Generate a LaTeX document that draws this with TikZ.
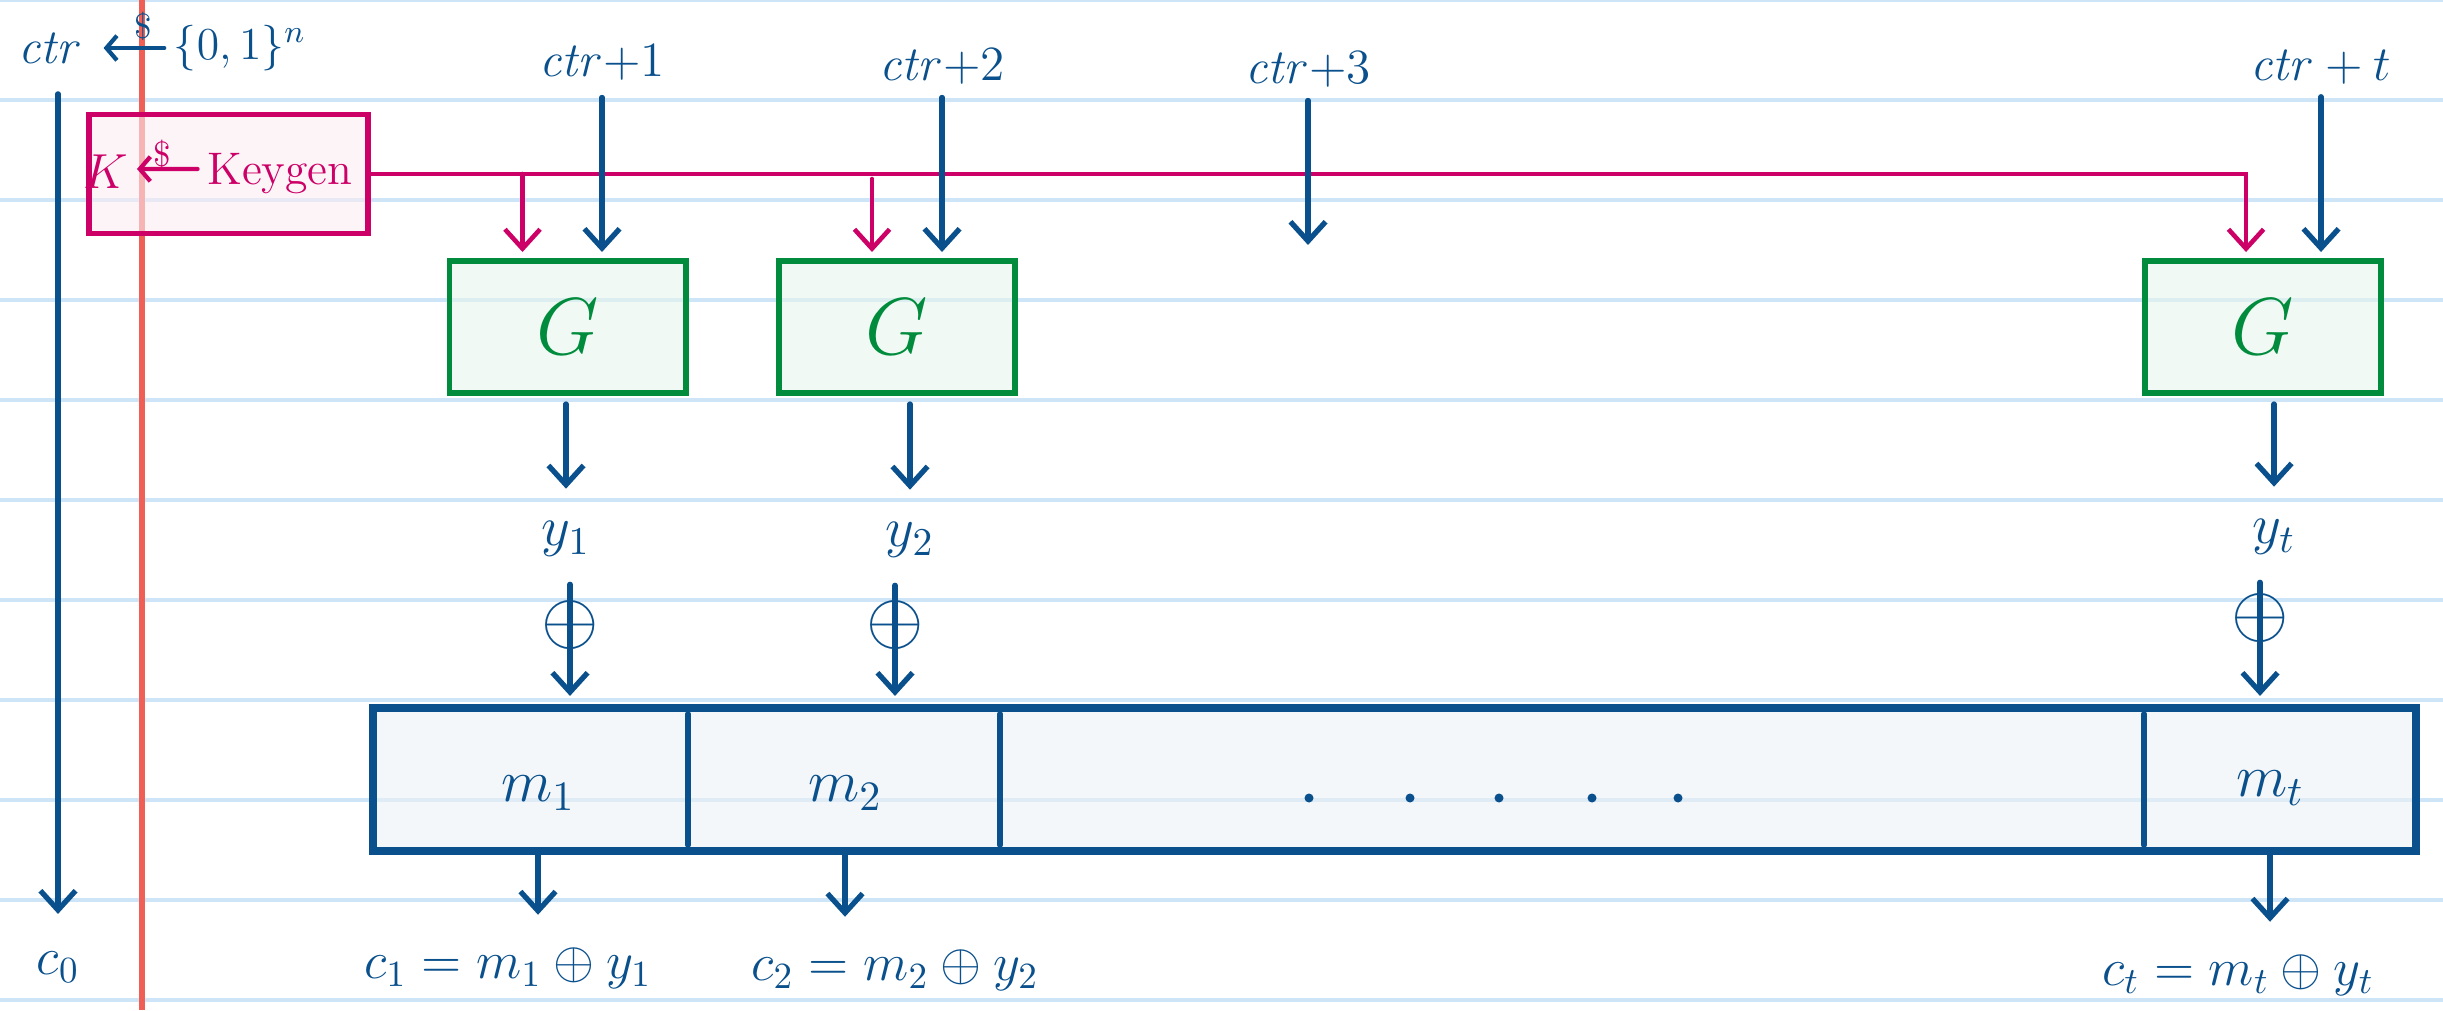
\RequirePackage{fix-cm}
\documentclass[tikz,border=0pt]{standalone}
\usepackage{amsmath,amssymb}
\usepackage{tikz}
\usetikzlibrary{arrows.meta,positioning}

\definecolor{ink}{RGB}{10,80,140}
\definecolor{keypink}{RGB}{204,0,102}
\definecolor{prgreen}{RGB}{0,140,60}
\definecolor{ruleblue}{RGB}{205,229,246}
\definecolor{marginred}{RGB}{240,95,85}

\begin{document}
\begin{tikzpicture}[x=1cm, y=1cm, >={Straight Barb[length=5.5pt,width=10pt]},
    lbl/.style={text=ink, inner sep=2pt, font=\fontsize{#1}{#1}\selectfont},
    flow/.style={->, draw=ink, line width=1.5pt, line cap=round},
    keyflow/.style={->, draw=keypink, line width=1.3pt, line cap=round},
    sampled/.style={arrows={Straight Barb[length=3pt,width=7pt]-}, line width=1.2pt, line cap=round},
    keybox/.style={draw=keypink, line width=1.7pt, fill=keypink!7, fill opacity=0.6,
        minimum width=2.79cm, minimum height=1.19cm},
    genbox/.style={draw=prgreen, line width=1.7pt, fill=prgreen!9, fill opacity=0.6, text opacity=1,
        text=prgreen, minimum width=2.36cm, minimum height=1.32cm, font=\fontsize{23}{23}\selectfont},
    msgbox/.style={draw=ink, line width=2.3pt, fill=ink!8, fill opacity=0.6,
        minimum width=20.43cm, minimum height=1.43cm}]

    % --- Ruled paper ---
    \useasboundingbox (0,0) rectangle (24.43,10.10);
    \foreach \k in {0,...,10}
        \draw[ruleblue, line width=1pt] (0,10.10-\k) -- (24.43,10.10-\k);
    \draw[marginred, line width=1.6pt] (1.42,0) -- (1.42,10.10);

    % --- Counter sampling ---
    \node[lbl=14] (ctr) at (0.50,9.62) {$\mathit{ctr}$};
    \node[lbl=13] (ctrset) at (2.40,9.62) {$\{0,1\}^n$};
    \node[lbl=10] (ctrcoin) at (1.43,9.84) {\$};
    \draw[sampled, ink, shorten <=0.14cm, shorten >=0.02cm] (ctr.east) -- (ctrset.west);
    \node[lbl=15] (c0) at (0.58,0.43) {$c_0$};
    \draw[flow, shorten <=0.23cm, shorten >=0.3cm] (c0.north |- ctr.south) -- (c0.north);

    % --- Key generation ---
    \node[keybox] (keygen) at (2.285,8.36) {};
    \node[lbl=14, text=keypink] (keyK) at (1.06,8.38) {$K$};
    \node[lbl=13, text=keypink] (keyalg) at (2.80,8.36) {Keygen};
    \node[lbl=10, text=keypink] (keycoin) at (1.62,8.56) {\$};
    \draw[sampled, keypink, shorten <=0.01cm, shorten >=0.02cm] ([yshift=0.03cm]keyK.east) -- ([yshift=0.05cm]keyalg.west);

    % --- PRG blocks ---
    \node[genbox] (G1) at (5.675,6.83) {$G$};
    \node[genbox] (G2) at (8.97,6.83) {$G$};
    \node[genbox] (Gt) at (22.63,6.83) {$G$};

    % Key wire into every G
    \coordinate (k1) at ([xshift=-0.45cm]G1.north);
    \coordinate (k2) at ([xshift=-0.25cm]G2.north);
    \draw[keyflow, shorten >=0.06cm] (keygen.east) -| ([xshift=-0.17cm]Gt.north);
    \draw[keyflow, shorten >=0.06cm] (k1 |- keygen.east) -- (k1);
    \draw[keyflow, shorten <=0.05cm, shorten >=0.06cm] (k2 |- keygen.east) -- (k2);

    % --- Counter inputs ---
    \node[lbl=14] (ctr1) at (6.02,9.47) {$\mathit{ctr}{+}1$};
    \node[lbl=14] (ctr2) at (9.42,9.43) {$\mathit{ctr}{+}2$};
    \node[lbl=14] (ctr3) at (13.08,9.40) {$\mathit{ctr}{+}3$};
    \node[lbl=14] (ctrt) at (23.21,9.43) {$\mathit{ctr} + t$};
    \coordinate (ctr3end) at (13.08,7.65);
    \draw[flow, shorten <=0.09cm, shorten >=0.06cm] (ctr1.south) -- (ctr1.south |- G1.north);
    \draw[flow, shorten <=0.05cm, shorten >=0.06cm] (ctr2.south) -- (ctr2.south |- G2.north);
    \draw[flow, shorten <=0.05cm] (ctr3.south) -- (ctr3end);
    \draw[flow, shorten <=0.05cm, shorten >=0.06cm] (ctrt.south) -- (ctrt.south |- Gt.north);

    % --- Message blocks ---
    \node[msgbox] (msg) at (13.945,2.305) {};
    \foreach \x in {6.88,10.00,21.44}
        \draw[ink, line width=1.6pt, line cap=round] (\x,2.96) -- (\x,1.65);
    \node[lbl=17] (m1) at (5.38,2.17) {$m_1$};
    \node[lbl=17] (m2) at (8.45,2.17) {$m_2$};
    \node[lbl=17] (mt) at (22.70,2.22) {$m_t$};
    \foreach \x in {13.09,14.10,14.99,15.92,16.78}
        \fill[ink] (\x,2.12) circle (0.045);

    % --- Keystream y_i ---
    \node[lbl=16] (y1) at (5.66,4.71) {$y_1$};
    \node[lbl=16] (y2) at (9.10,4.70) {$y_2$};
    \node[lbl=16] (yt) at (22.74,4.73) {$y_t$};
    \draw[flow, shorten <=0.08cm, shorten >=0.25cm] (y1.north |- G1.south) -- (y1.north);
    \draw[flow, shorten <=0.08cm, shorten >=0.25cm] (y2.north |- G2.south) -- (y2.north);
    \draw[flow, shorten <=0.08cm, shorten >=0.25cm] (yt.north |- Gt.south) -- (yt.north);

    % XOR into the blocks
    \node[lbl=21] (x1) at (5.70,3.85) {$\oplus$};
    \node[lbl=21] (x2) at (8.95,3.85) {$\oplus$};
    \node[lbl=21] (xt) at (22.60,3.92) {$\oplus$};
    \draw[flow, shorten <=0.2cm, shorten >=0.08cm] (x1 |- y1.south) -- (x1 |- msg.north);
    \draw[flow, shorten <=0.2cm, shorten >=0.08cm] (x2 |- y2.south) -- (x2 |- msg.north);
    \draw[flow, shorten <=0.2cm, shorten >=0.08cm] (xt |- yt.south) -- (xt |- msg.north);

    % --- Ciphertext blocks ---
    \node[lbl=15] (c1) at (5.08,0.42) {$c_1 = m_1 \oplus y_1$};
    \node[lbl=15] (c2) at (8.95,0.40) {$c_2 = m_2 \oplus y_2$};
    \node[lbl=15] (ct) at (22.38,0.35) {$c_t = m_t \oplus y_t$};
    \draw[flow, shorten >=0.25cm] (m1 |- msg.south) -- (m1 |- c1.north);
    \draw[flow, shorten >=0.25cm] (m2 |- msg.south) -- (m2 |- c2.north);
    \draw[flow, shorten >=0.25cm] (mt |- msg.south) -- (mt |- ct.north);

\end{tikzpicture}
\end{document}
